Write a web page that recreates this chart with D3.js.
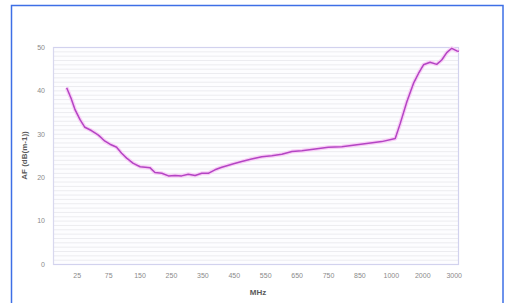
<!DOCTYPE html>
<html>
<head>
<meta charset="utf-8">
<script src="https://cdn.jsdelivr.net/npm/d3@7"></script>
<style>
  html, body { margin: 0; padding: 0; background: #fff; }
  svg { display: block; }
  text { font-family: "Liberation Sans", Arial, sans-serif; }
</style>
</head>
<body>
<svg id="chart" width="507" height="303"></svg>
<script>
// Tick labels on the category axis (MHz)
const tickLabels = ["25", "75", "150", "250", "350", "450", "550", "650", "750", "850", "1000", "2000", "3000"];
// Position of each sample along the category axis (in tick-label units)
const pos = [-0.32, -0.18, -0.05, 0.11, 0.26, 0.48, 0.69, 0.90, 1.06, 1.27, 1.43, 1.59, 1.80, 2.02, 2.18, 2.33,
  2.49, 2.71, 2.92, 3.13, 3.34, 3.55, 3.77, 3.98, 4.19, 4.40, 4.62, 4.94, 5.25, 5.57, 5.89, 6.21, 6.53, 6.85,
  7.17, 7.59, 8.01, 8.44, 8.86, 9.29, 9.71, 10.14, 10.30, 10.51, 10.72, 10.88, 11.04, 11.25, 11.46, 11.62,
  11.78, 11.94, 12.10, 12.17];
// Antenna factor AF (dB(m-1))
const af = [40.6, 38.2, 35.5, 33.2, 31.5, 30.7, 29.7, 28.3, 27.6, 26.9, 25.5, 24.4, 23.2, 22.4, 22.3, 22.2,
  21.1, 20.9, 20.3, 20.4, 20.3, 20.7, 20.4, 20.9, 20.9, 21.7, 22.3, 23.0, 23.6, 24.2, 24.7, 24.95, 25.3, 25.9,
  26.1, 26.5, 26.9, 27.0, 27.4, 27.8, 28.2, 28.9, 32.4, 37.4, 41.6, 43.9, 45.9, 46.5, 46.0, 47.0,
  48.7, 49.7, 49.1, 49.0];
const yTicks = [0, 10, 20, 30, 40, 50];

const svg = d3.select("#chart");

// outer frame
svg.append("rect").attr("x", 11.5).attr("y", 5.5).attr("width", 491.5).attr("height", 310)
  .attr("fill", "#fff").attr("stroke", "#3d6fe6").attr("stroke-width", 1.5);

const L = 53, R = 459, T = 47, B = 264;
const x = d3.scaleLinear().domain([-0.755, 12.17]).range([L, R]);
const y = d3.scaleLinear().domain([0, 50]).range([B, T]);

// plot background
svg.append("rect").attr("x", L).attr("y", T).attr("width", R - L).attr("height", B - T)
  .attr("fill", "#fdfdff");

// minor gridlines every 1 unit
svg.append("g").selectAll("line").data(d3.range(1, 50))
  .join("line")
  .attr("x1", L).attr("x2", R)
  .attr("y1", d => y(d) + 0.5).attr("y2", d => y(d) + 0.5)
  .attr("stroke", "#ececf0").attr("stroke-width", 1);

// plot border
svg.append("rect").attr("x", L + 0.5).attr("y", T + 0.5).attr("width", R - L - 1).attr("height", B - T)
  .attr("fill", "none").attr("stroke", "#d2d2ee").attr("stroke-width", 1.2);

// y axis
const yAxis = d3.axisLeft(y).tickValues(yTicks).tickSize(0).tickPadding(8);
const gy = svg.append("g").attr("transform", `translate(${L},0)`).call(yAxis);
gy.select(".domain").attr("stroke", "#d8d8ee");
gy.selectAll("text").attr("font-size", 7).attr("fill", "#8a8a8a");

// x axis
const xAxis = d3.axisBottom(x).tickValues(d3.range(tickLabels.length))
  .tickFormat(i => tickLabels[i]).tickSize(0).tickPadding(9);
const gx = svg.append("g").attr("transform", `translate(0,${B})`).call(xAxis);
gx.select(".domain").remove();
gx.selectAll("text").attr("font-size", 7).attr("fill", "#8a8a8a");

// axis titles
svg.append("text").attr("x", (L + R) / 2 + 2).attr("y", 295).attr("text-anchor", "middle")
  .attr("font-size", 8).attr("font-weight", "bold").attr("fill", "#5a5a5a").text("MHz");
svg.append("text").attr("transform", `translate(27,${(T + B) / 2}) rotate(-90)`)
  .attr("text-anchor", "middle").attr("font-size", 8).attr("font-weight", "bold").attr("fill", "#5a5a5a")
  .text("AF (dB(m-1))");

// line
const data = pos.map((p, i) => ({ p, v: af[i] }));
const line = d3.line().x(d => x(d.p)).y(d => y(d.v));
svg.append("path").datum(data).attr("d", line).attr("fill", "none")
  .attr("stroke", "#f8d0f6").attr("stroke-width", 4).attr("stroke-linejoin", "round");
svg.append("path").datum(data).attr("d", line).attr("fill", "none")
  .attr("stroke", "#b444c4").attr("stroke-width", 1.5).attr("stroke-linejoin", "round");
</script>
</body>
</html>
